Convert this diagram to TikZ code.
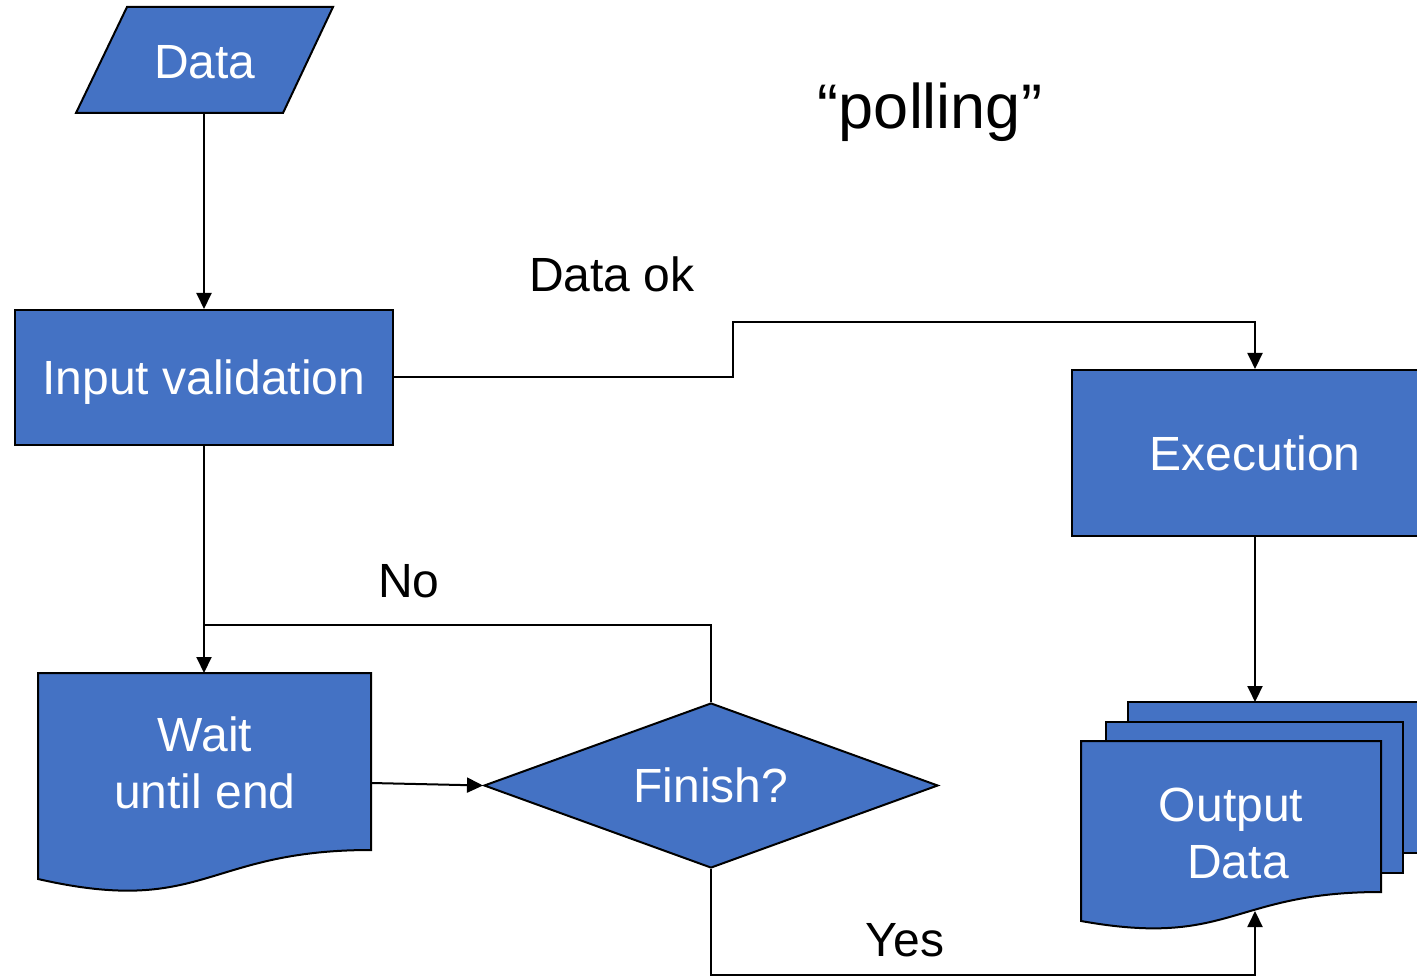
\documentclass[tikz,border=0pt]{standalone}
\usepackage{fontspec}
\setmainfont{Liberation Sans}
\usetikzlibrary{arrows.meta,shapes.geometric}
\definecolor{boxblue}{HTML}{4472C4}
\begin{document}
\begin{tikzpicture}[x=0.5pt,y=-0.5pt,
  shapebox/.style={fill=boxblue,draw=black,line width=1pt},
  boxtext/.style={text=white,font=\fontsize{24}{28.5}\selectfont,align=center,inner sep=0pt},
  lbl/.style={text=black,font=\fontsize{24}{28.5}\selectfont,inner sep=0pt},
  conn/.style={draw=black,line width=1pt},
  arr/.style={conn,-{Triangle[length=8pt,width=7.5pt]}}]
\useasboundingbox (0,0) rectangle (1417,977);
\clip (0,0) rectangle (1417,977);
% Data (parallelogram)
\draw[shapebox] (127,7) -- (333,7) -- (283,113) -- (76,113) -- cycle;
\node[boxtext] (data) at (205,62) {Data};
\coordinate (dataB) at (204,113);
% Input validation
\node[shapebox,boxtext,text depth=0pt,minimum width=189pt,minimum height=67.5pt] (inval) at (204,377.5) {Input validation};
% Execution
\node[shapebox,boxtext,minimum width=183pt,minimum height=83pt] (exec) at (1255,453) {Execution};
% Finish diamond
\node[shapebox,boxtext,diamond,aspect=2.75,minimum width=227pt,minimum height=82.5pt] (fin) at (711,785.5) {Finish?};
% Wait document
\draw[shapebox] (38,673) -- (371,673) -- (371,850) .. controls (204.5,850) and (204.5,917) .. (38,879) -- cycle;
\node[boxtext] (wait) at (205,763) {Wait\\until end};
\coordinate (waitT) at (204,673);
\coordinate (waitR) at (371,783);
% Output multi-document
\draw[shapebox] (1128,702) rectangle (1430,853);
\draw[shapebox] (1106,722) rectangle (1403,873);
\draw[shapebox] (1081,741) -- (1381,741) -- (1381,892) .. controls (1231,892) and (1231,948) .. (1081,921) -- cycle;
\node[boxtext] (out) at (1231,833) {Output\\\hspace*{7pt}Data};
\coordinate (outT) at (1255,702);
\coordinate (outB) at (1255,911);
% connectors
\coordinate (k1) at (733,322);
\coordinate (j) at (204,625);
\coordinate (k2) at (711,975);
\draw[arr] (dataB) -- (inval.north);
\draw[arr] (inval.east) -| (k1) -| (exec.north);
\draw[arr] (inval.south) -- (waitT);
\draw[conn] (fin.north) |- (j);
\draw[arr] (waitR) -- (fin.west);
\draw[arr] (fin.south) -- (k2) -| (outB);
\draw[arr] (exec.south) -- (outT);
% labels
\node[lbl] (dok) at (612,274) {Data ok};
\node[lbl] (no) at (409,581) {No};
\node[lbl] (yes) at (905,940) {Yes};
\node[lbl,font=\fontsize{31.5}{36}\selectfont] (poll) at (930,112) {“polling”};
\end{tikzpicture}
\end{document}
